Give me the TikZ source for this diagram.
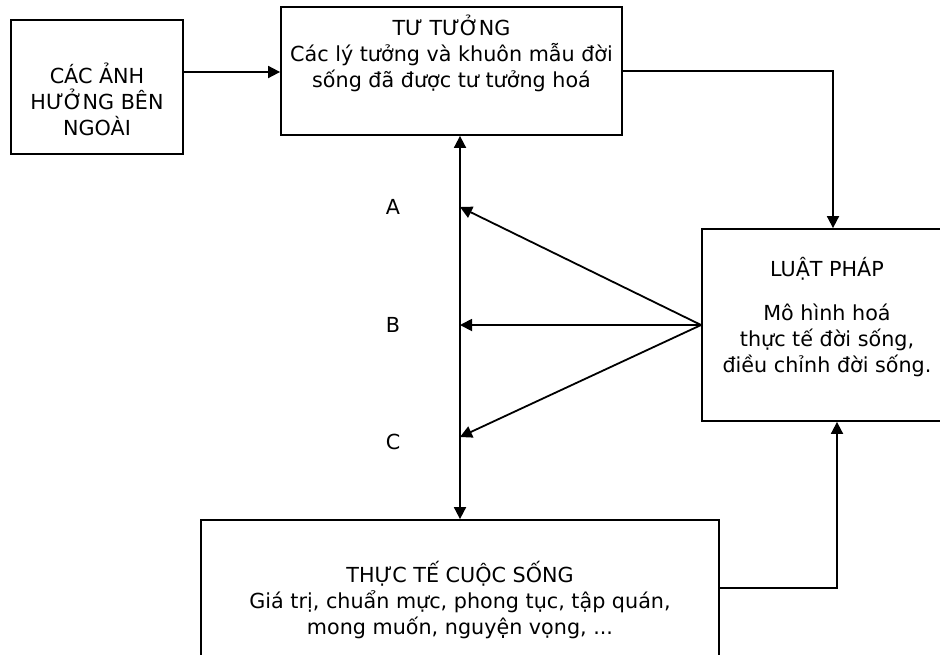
\documentclass[tikz,border=0pt]{standalone}
\usepackage{fontspec}
\setmainfont{DejaVu Sans}
\usetikzlibrary{arrows.meta,calc}
\tikzset{
  boxstyle/.style={draw=black, line width=1.8pt, fill=none, inner sep=0pt},
  txt/.style={align=center, inner sep=0pt, font=\fontsize{20.7}{26}\selectfont},
  lbl/.style={inner sep=0pt, font=\fontsize{20.7}{26}\selectfont},
  conn/.style={draw=black, line width=1.8pt, -{Triangle[length=12pt,width=12pt]}},
  dconn/.style={draw=black, line width=1.8pt, {Triangle[length=12pt,width=12pt]}-{Triangle[length=12pt,width=12pt]}}
}
\begin{document}
\begin{tikzpicture}[x=1pt,y=-1pt]
\useasboundingbox (0,0) rectangle (940,654);
\fill[white] (0,0) rectangle (940,654);
\clip (0,0) rectangle (940,654);

% boxes
\node[boxstyle, minimum width=172pt, minimum height=134pt] (ext) at (97,87) {};
\node[boxstyle, minimum width=341pt, minimum height=128pt] (idea) at (451.5,71) {};
\node[boxstyle, minimum width=250pt, minimum height=192pt] (law) at (827,325) {};
\node[boxstyle, minimum width=518pt, minimum height=162pt] (life) at (460,601) {};

% texts
\node[txt] (extT) at (97,99) {CÁC ẢNH\\HƯỞNG BÊN\\NGOÀI};
\node[txt] (ideaT) at (451.5,53) {TƯ TƯỞNG\\Các lý tưởng và khuôn mẫu đời\\sống đã được tư tưởng hoá};
\node[txt] (lawH) at (827,269) {LUẬT PHÁP};
\node[txt] (lawT) at (827,340) {Mô hình hoá\\thực tế đời sống,\\điều chỉnh đời sống.};
\node[txt] (lifeT) at (460,600) {THỰC TẾ CUỘC SỐNG\\Giá trị, chuẩn mực, phong tục, tập quán,\\mong muốn, nguyện vọng, ...};

% labels
\node[lbl] (la) at (393,207) {A};
\node[lbl] (lb) at (393,325) {B};
\node[lbl] (lc) at (393,442) {C};

% coordinates
\coordinate (vtop) at (idea.south -| life.north);
\coordinate (tA) at (460,207);
\coordinate (tB) at (law.west -| life.north);
\coordinate (tC) at (460,437);

% connectors
\draw[conn] ([yshift=15pt]ext.east) -- ([yshift=15pt]ext.east -| idea.west);
\draw[conn] (idea.east) -| ([xshift=6pt]law.north);
\draw[dconn] (vtop) -- (life.north);
\draw[conn] (law.west) -- (tA);
\draw[conn] (law.west) -- (tB);
\draw[conn] (law.west) -- (tC);
\draw[conn] ([yshift=13pt]life.east) -| ([xshift=10pt]law.south);
\end{tikzpicture}
\end{document}
